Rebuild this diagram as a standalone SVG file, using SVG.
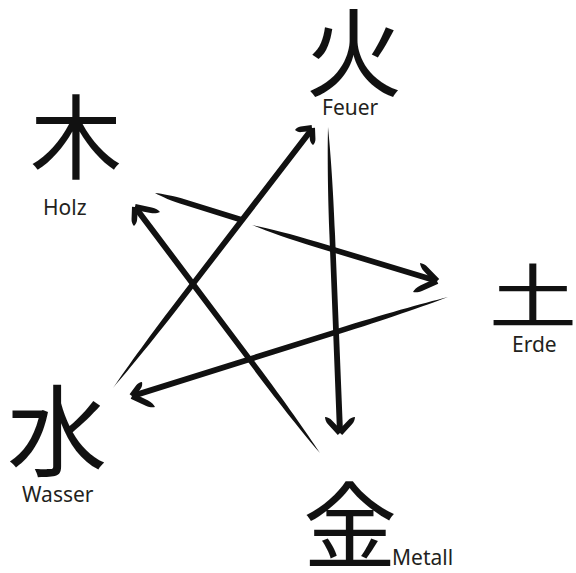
<svg xmlns="http://www.w3.org/2000/svg" xmlns:xlink="http://www.w3.org/1999/xlink" width="576" height="573" viewBox="0 0 576 573">
<style>
.kanji{font-family:"Noto Sans CJK JP","Noto Sans CJK SC",sans-serif;font-weight:400;fill:#111;text-anchor:middle}
.label{font-family:"Noto Sans","Open Sans",sans-serif;font-size:21px;fill:#231f20}
.brush{fill:#111}
</style>
<defs>
<path id="stroke" d="M0,0 C8,1.5 20,2.8 35,2.8 L100,3 L100,-3 L35,-2.8 C20,-2.8 8,-1.5 0,0 Z"/>
</defs>
<rect width="576" height="573" fill="#fff"/>
<g id="node-feuer">
<text class="kanji" x="354" y="89" font-size="97">火</text>
<text class="label" x="322" y="115">Feuer</text>
</g>
<g id="node-holz">
<text class="kanji" x="76" y="172" font-size="92">木</text>
<text class="label" x="43" y="215">Holz</text>
</g>
<g id="node-erde">
<text class="kanji" x="0" y="0" font-size="88" transform="translate(533,323) scale(1,0.8)">土</text>
<text class="label" x="512" y="352">Erde</text>
</g>
<g id="node-wasser">
<text class="kanji" x="57" y="469" font-size="100">水</text>
<text class="label" x="22" y="502">Wasser</text>
</g>
<g id="node-metall">
<text class="kanji" x="350" y="561" font-size="94">金</text>
<text class="label" x="392" y="565">Metall</text>
</g>
<g id="connectors" class="brush">
<!-- Wasser -> Feuer -->
<use xlink:href="#stroke" transform="translate(113,388) rotate(-52.46) scale(3.266,1)"/>
<use xlink:href="#stroke" transform="translate(295,130) rotate(-6.7) scale(0.171,1)"/>
<use xlink:href="#stroke" transform="translate(313,145) rotate(-93.4) scale(0.17,1)"/>
<!-- Feuer -> Metall -->
<use xlink:href="#stroke" transform="translate(328,127) rotate(87.75) scale(3.062,1)"/>
<use xlink:href="#stroke" transform="translate(325,417) rotate(46.8) scale(0.219,1)"/>
<use xlink:href="#stroke" transform="translate(355,417) rotate(133.2) scale(0.219,1)"/>
<!-- Holz -> Erde -->
<use xlink:href="#stroke" transform="translate(155,193) rotate(17.24) scale(0.911,1)"/>
<use xlink:href="#stroke" transform="translate(252,225) rotate(16.84) scale(1.933,1)"/>
<use xlink:href="#stroke" transform="translate(420,263) rotate(46.6) scale(0.248,1)"/>
<use xlink:href="#stroke" transform="translate(413,292) rotate(-24.6) scale(0.264,1)"/>
<!-- Erde -> Wasser -->
<use xlink:href="#stroke" transform="translate(448,297) rotate(162.6) scale(3.311,1)"/>
<use xlink:href="#stroke" transform="translate(142,382) rotate(125.5) scale(0.172,1)"/>
<use xlink:href="#stroke" transform="translate(155,407) rotate(-154.4) scale(0.255,1)"/>
<!-- Metall -> Holz -->
<use xlink:href="#stroke" transform="translate(320,453) rotate(-126.94) scale(3.078,1)"/>
<use xlink:href="#stroke" transform="translate(160,212) rotate(-168.7) scale(0.255,1)"/>
<use xlink:href="#stroke" transform="translate(134,226) rotate(-87) scale(0.19,1)"/>
</g>
</svg>
